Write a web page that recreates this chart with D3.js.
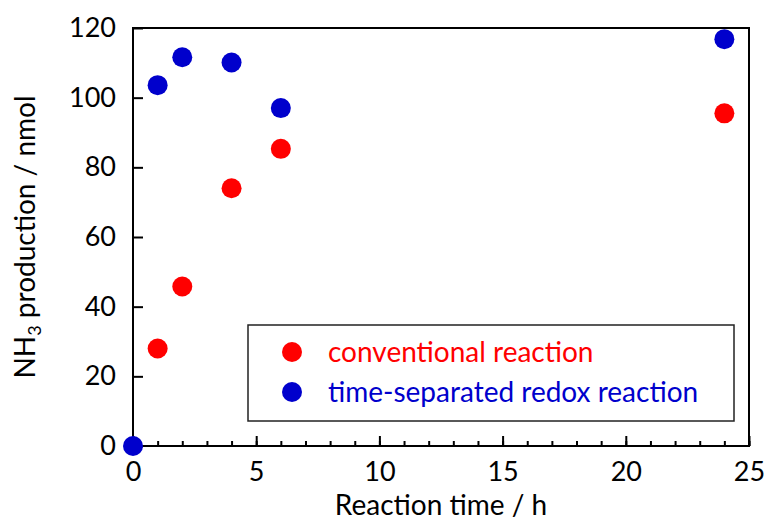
<!DOCTYPE html>
<html>
<head>
<meta charset="utf-8">
<script src="https://cdn.jsdelivr.net/npm/d3@7"></script>
<style>
	body { margin: 0; background: #fff; }
	text { font-family: Lato, "Open Sans", sans-serif; }
</style>
</head>
<body>
<svg id="chart"></svg>
<script>
const timesHours = [0, 1, 2, 4, 6, 24];
const conventional = [null, 28.0, 45.8, 74.0, 85.3, 95.5];
const timeSeparated = [0, 103.6, 111.6, 110.1, 97.0, 116.8];
const xTicks = [0, 5, 10, 15, 20, 25];
const yTicks = [0, 20, 40, 60, 80, 100, 120];
const seriesNames = ['conventional reaction', 'time-separated redox reaction'];
const seriesColors = ['#ff0000', '#0000cc'];

const width = 766;
const height = 521;
const margin = { top: 28, right: 17, bottom: 75, left: 133 };
const tickFont = 27;
const labelFont = 28;

const svg = d3.select('#chart')
	.attr('width', width)
	.attr('height', height);

const x = d3.scaleLinear()
	.domain([0, 25])
	.range([margin.left, width - margin.right]);

const y = d3.scaleLinear()
	.domain([0, 120])
	.range([height - margin.bottom, margin.top]);

// frame
svg.append('rect')
	.attr('x', x(0))
	.attr('y', y(120))
	.attr('width', x(25) - x(0))
	.attr('height', y(0) - y(120))
	.attr('fill', 'none')
	.attr('stroke', '#000')
	.attr('stroke-width', 2);

// minor x ticks, every hour
const xMinor = svg.append('g')
	.attr('transform', `translate(0,${y(0)})`)
	.call(d3.axisBottom(x).tickValues(d3.range(0, 26)).tickSize(-5).tickFormat(''));
xMinor.select('.domain').remove();
xMinor.selectAll('line').attr('stroke-width', 2);

const xAxis = svg.append('g')
	.attr('transform', `translate(0,${y(0)})`)
	.call(d3.axisBottom(x).tickValues(xTicks).tickSize(-10).tickPadding(16).tickFormat(d3.format('d')));
xAxis.select('.domain').remove();
xAxis.selectAll('line').attr('stroke-width', 2);
xAxis.selectAll('text')
	.attr('font-size', tickFont)
	.attr('fill', '#000')
	.attr('font-family', 'Lato, sans-serif');

const yAxis = svg.append('g')
	.attr('transform', `translate(${x(0)},0)`)
	.call(d3.axisLeft(y).tickValues(yTicks).tickSize(-10).tickPadding(17).tickFormat(d3.format('d')));
yAxis.select('.domain').remove();
yAxis.selectAll('line').attr('stroke-width', 2);
yAxis.selectAll('text')
	.attr('font-size', tickFont)
	.attr('fill', '#000')
	.attr('font-family', 'Lato, sans-serif');

// axis titles
svg.append('text')
	.attr('x', (x(0) + x(25)) / 2)
	.attr('y', 515)
	.attr('text-anchor', 'middle')
	.attr('font-size', labelFont)
	.text('Reaction time / h');

const yTitle = svg.append('text')
	.attr('transform', `translate(35,${(y(0) + y(120)) / 2}) rotate(-90)`)
	.attr('text-anchor', 'middle')
	.attr('font-size', labelFont);
yTitle.append('tspan').text('NH');
yTitle.append('tspan').attr('font-size', 18).attr('dy', 6).text('3');
yTitle.append('tspan').attr('dy', -6).text(' production / nmol');

// data points
const seriesData = [conventional, timeSeparated];
seriesData.forEach((values, i) => {
	const points = timesHours
		.map((t, j) => ({ t, v: values[j] }))
		.filter(d => d.v !== null);
	svg.append('g')
		.selectAll('circle')
		.data(points)
		.enter()
		.append('circle')
		.attr('cx', d => x(d.t))
		.attr('cy', d => y(d.v))
		.attr('r', 10)
		.attr('fill', seriesColors[i]);
});

// legend
const legend = svg.append('g');
legend.append('rect')
	.attr('x', 248)
	.attr('y', 325)
	.attr('width', 486)
	.attr('height', 96)
	.attr('fill', '#fff')
	.attr('stroke', '#222')
	.attr('stroke-width', 1.5);

seriesNames.forEach((name, i) => {
	const cy = 352 + i * 40;
	legend.append('circle')
		.attr('cx', 292)
		.attr('cy', cy)
		.attr('r', 10)
		.attr('fill', seriesColors[i]);
	legend.append('text')
		.attr('x', 328)
		.attr('y', cy)
		.attr('dy', '0.35em')
		.attr('font-size', labelFont)
		.attr('fill', seriesColors[i])
		.text(name);
});
</script>
</body>
</html>
